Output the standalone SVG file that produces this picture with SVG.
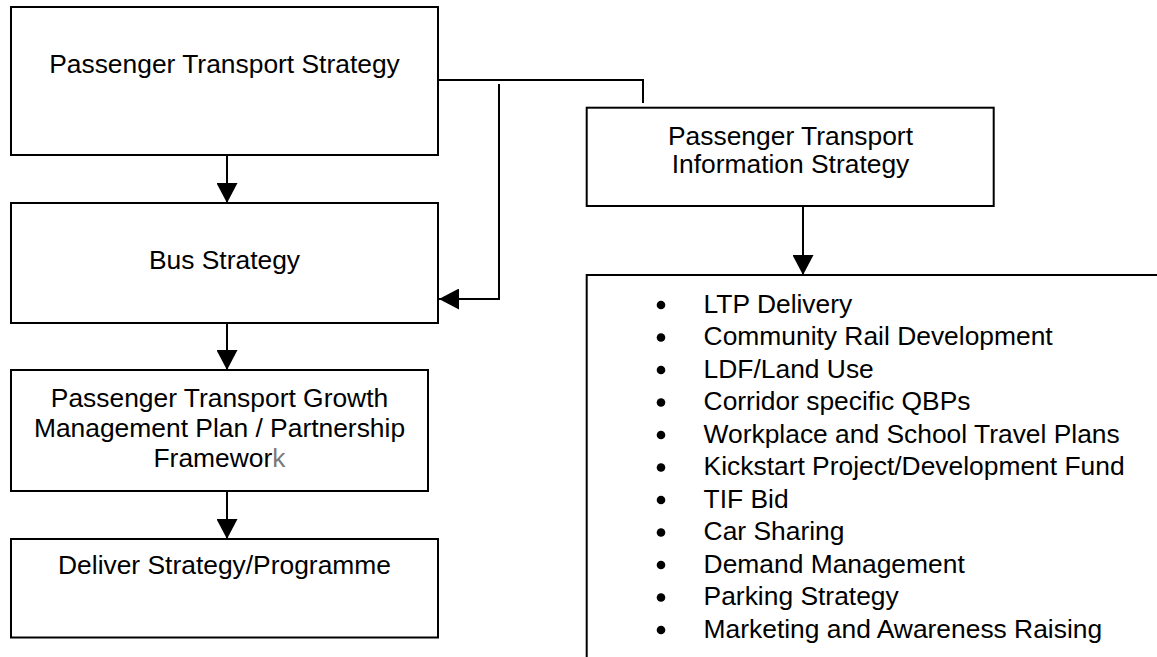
<svg xmlns="http://www.w3.org/2000/svg" width="1157" height="657" viewBox="0 0 1157 657">
  <style>
    .box { fill: #ffffff; stroke: #000000; stroke-width: 2; }
    .edge { fill: none; stroke: #000000; stroke-width: 2; }
    .lbl { font-family: "Liberation Sans", Arial, sans-serif; font-size: 26.4px; fill: #000000; }
    .mid { text-anchor: middle; }
  </style>
  <defs>
    <marker id="arrow" viewBox="0 0 20 21" refX="20" refY="10.5" markerWidth="20" markerHeight="21" markerUnits="userSpaceOnUse" orient="auto">
      <path d="M0,0 L20,10.5 L0,21 Z" fill="#000000"/>
    </marker>
  </defs>
  <rect width="1157" height="657" fill="#ffffff"/>

  <!-- connectors -->
  <g id="connectors">
    <line class="edge" x1="227" y1="155" x2="227" y2="203" marker-end="url(#arrow)"/>
    <line class="edge" x1="227" y1="323" x2="227" y2="370" marker-end="url(#arrow)"/>
    <line class="edge" x1="227" y1="491" x2="227" y2="539" marker-end="url(#arrow)"/>
    <polyline class="edge" points="438,80 643,80 643,103"/>
    <polyline class="edge" points="499,84 499,299 439,299" marker-end="url(#arrow)"/>
    <line class="edge" x1="803" y1="206" x2="803" y2="275" marker-end="url(#arrow)"/>
  </g>

  <g id="pt-strategy">
    <rect class="box" x="11" y="7" width="427" height="148"/>
    <text class="lbl mid" x="224.5" y="73.3">Passenger Transport Strategy</text>
  </g>

  <g id="bus-strategy">
    <rect class="box" x="11" y="203" width="427" height="120"/>
    <text class="lbl mid" x="224.5" y="269">Bus Strategy</text>
  </g>

  <g id="growth-plan">
    <rect class="box" x="11" y="370" width="417" height="121"/>
    <text class="lbl mid" x="219.5" y="406.7">Passenger Transport Growth</text>
    <text class="lbl mid" x="219.5" y="436.7">Management Plan / Partnership</text>
    <text class="lbl mid" x="219.5" y="466.7">Framewor<tspan fill="#7a7a7a">k</tspan></text>
  </g>

  <g id="deliver">
    <rect class="box" x="11" y="539" width="427" height="98.5"/>
    <text class="lbl mid" x="224.5" y="574.3">Deliver Strategy/Programme</text>
  </g>

  <g id="info-strategy">
    <rect class="box" x="586.7" y="107.7" width="407" height="98.3"/>
    <text class="lbl mid" x="790.5" y="145">Passenger Transport</text>
    <text class="lbl mid" x="790.5" y="173">Information Strategy</text>
  </g>

  <g id="initiatives">
    <polyline class="edge" points="586.7,660 586.7,275 1160,275"/>
    <g fill="#000000">
      <circle cx="661" cy="305" r="4.3"/>
      <circle cx="661" cy="337.5" r="4.3"/>
      <circle cx="661" cy="370" r="4.3"/>
      <circle cx="661" cy="402.5" r="4.3"/>
      <circle cx="661" cy="435" r="4.3"/>
      <circle cx="661" cy="467.5" r="4.3"/>
      <circle cx="661" cy="500" r="4.3"/>
      <circle cx="661" cy="532.5" r="4.3"/>
      <circle cx="661" cy="565" r="4.3"/>
      <circle cx="661" cy="597.5" r="4.3"/>
      <circle cx="661" cy="630" r="4.3"/>
    </g>
    <text class="lbl" x="703.6" y="312.7">LTP Delivery</text>
    <text class="lbl" x="703.6" y="345.2">Community Rail Development</text>
    <text class="lbl" x="703.6" y="377.7">LDF/Land Use</text>
    <text class="lbl" x="703.6" y="410.2">Corridor specific QBPs</text>
    <text class="lbl" x="703.6" y="442.7">Workplace and School Travel Plans</text>
    <text class="lbl" x="703.6" y="475.2">Kickstart Project/Development Fund</text>
    <text class="lbl" x="703.6" y="507.7">TIF Bid</text>
    <text class="lbl" x="703.6" y="540.2">Car Sharing</text>
    <text class="lbl" x="703.6" y="572.7">Demand Management</text>
    <text class="lbl" x="703.6" y="605.2">Parking Strategy</text>
    <text class="lbl" x="703.6" y="637.7">Marketing and Awareness Raising</text>
  </g>
</svg>
